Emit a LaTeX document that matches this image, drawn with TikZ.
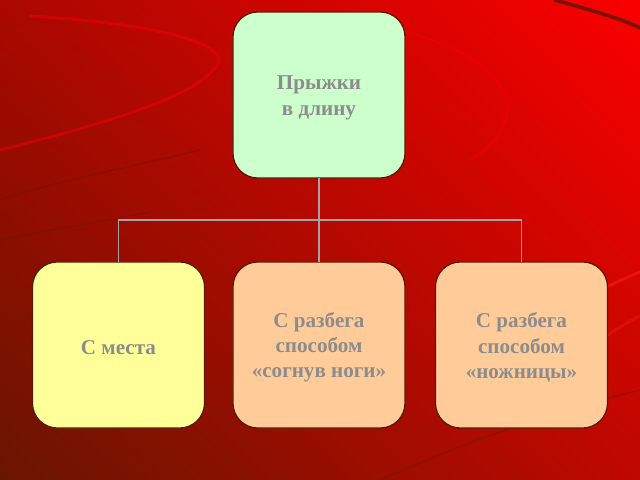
\documentclass[tikz,border=0pt]{standalone}
\usepackage{fontspec}
\setmainfont{Liberation Serif}
\usetikzlibrary{shadings}
\definecolor{bgDark}{RGB}{104,22,0}
\definecolor{bgTopLeft}{RGB}{170,8,0}
\definecolor{bgBright}{RGB}{250,0,0}
\definecolor{bgLowRight}{RGB}{190,8,0}
\definecolor{boxEdge}{RGB}{90,24,4}
\definecolor{boxGreen}{RGB}{204,255,204}
\definecolor{boxYellow}{RGB}{255,255,153}
\definecolor{boxPeach}{RGB}{255,204,153}
\definecolor{labelGray}{RGB}{140,140,140}
\definecolor{linkGray}{RGB}{168,160,168}
\begin{document}
\begin{tikzpicture}[x=0.025cm, y=-0.025cm,
    jumpbox/.style={rectangle, draw=boxEdge, line width=0.9pt, rounded corners=0.62cm, minimum width=4.3cm, minimum height=4.15cm, align=center, font=\fontsize{15}{18}\selectfont\bfseries, text=labelGray, inner sep=0pt, outer sep=0pt},
    topbox/.style={jumpbox, fill=boxGreen},
    placebox/.style={jumpbox, fill=boxYellow},
    runbox/.style={jumpbox, fill=boxPeach},
    link/.style={draw=linkGray, line width=1.3pt},
    swoosh/.style={line width=1.2pt, line cap=round}
]
    \shade[upper left=bgTopLeft, upper right=bgBright, lower left=bgDark, lower right=bgLowRight] (0,0) rectangle (640,480);
    \useasboundingbox (0,0) rectangle (640,480);

    \draw[swoosh, red, opacity=0.45, line width=2pt] (30,16) .. controls (180,25) and (240,50) .. (213,70) .. controls (190,100) and (80,130) .. (0,150);
    \draw[swoosh, bgDark, opacity=0.35] (0,200) .. controls (60,180) and (140,165) .. (200,150);
    \draw[swoosh, bgDark, opacity=0.3] (0,240) .. controls (50,230) and (100,222) .. (150,212);
    \draw[swoosh, red, opacity=0.3, line width=2pt] (330,18) .. controls (520,40) and (540,120) .. (470,160);
    \draw[swoosh, boxEdge, line width=2.5pt, opacity=0.8] (555,0) .. controls (590,10) and (620,18) .. (640,28);
    \draw[swoosh, red!85!white, opacity=0.45, line width=2pt] (580,300) .. controls (600,290) and (620,280) .. (640,272);
    \draw[swoosh, red!85!white, opacity=0.3, line width=2pt] (600,340) .. controls (615,330) and (628,322) .. (640,316);
    \draw[swoosh, bgDark, opacity=0.3] (380,480) .. controls (450,450) and (520,420) .. (640,390);

    \node[topbox] (longJump) at (319,95) {\rule{0pt}{14pt}Прыжки\\в длину};
    \node[placebox] (fromPlace) at (118.5,345) {\rule{0pt}{14pt}С места};
    \node[runbox] (bentLegs) at (319,345) {\rule{0pt}{14pt}С разбега\\способом\\«согнув ноги»};
    \node[runbox] (scissors) at (521.5,345) {\rule{0pt}{14pt}С разбега\\способом\\«ножницы»};

    \coordinate (bus) at (319,220);
    \draw[link] (longJump.south) -- (bus);
    \draw[link] (bus) -| (fromPlace.north);
    \draw[link] (bus) -- (bentLegs.north);
    \draw[link] (bus) -| (scissors.north);
\end{tikzpicture}
\end{document}
